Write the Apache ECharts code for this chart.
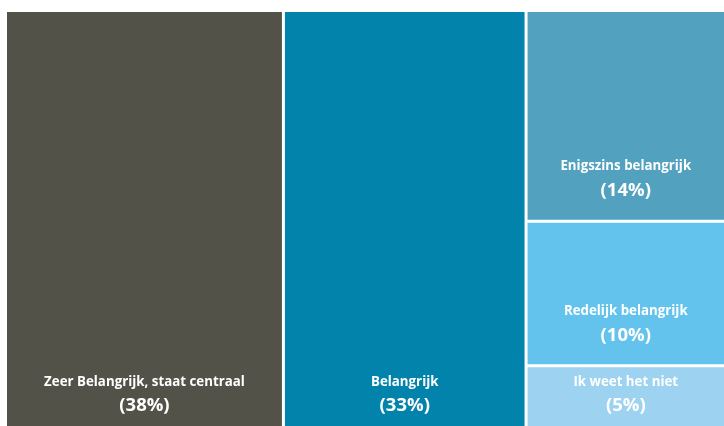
<!DOCTYPE html>
<html>
<head>
<meta charset="utf-8">
<script src="https://cdn.jsdelivr.net/npm/echarts@6/dist/echarts.min.js"></script>
<style>
  html, body { margin: 0; padding: 0; background: #ffffff; }
  #chart { width: 724px; height: 426px; }
</style>
</head>
<body>
<div id="chart"></div>
<script>
// Categories (answers)
var categories = [
  'Zeer Belangrijk, staat centraal',
  'Belangrijk',
  'Enigszins belangrijk',
  'Redelijk belangrijk',
  'Ik weet het niet'
];
// Area shares (drive the tile sizes)
var shares = [38.6, 33.7, 13.7, 9.4, 4.6];
// Percentages as printed in the labels
var percentLabels = ['38%', '33%', '14%', '10%', '5%'];
// Tile colours
var colors = ['#535249', '#0283ab', '#51a1bf', '#63c3ec', '#9dd3f0'];

var NAME_LH = 23, PCT_LH = 25, BOTTOM_GAP = 16.5;

function buildData(heights) {
  return categories.map(function (name, i) {
    var item = {
      name: name,
      value: shares[i],
      pct: percentLabels[i],
      itemStyle: { color: colors[i] }
    };
    if (heights && heights[name] != null) {
      var top = Math.max(heights[name] - NAME_LH - PCT_LH - BOTTOM_GAP, 0);
      item.label = { padding: [top, 5, 0, 5] };
    }
    return item;
  });
}

var chart = echarts.init(document.getElementById('chart'), null, { renderer: 'canvas' });
var option = {
  animation: false,
  series: [{
    type: 'treemap',
    left: 7,
    top: 12,
    width: 717,
    height: 423,
    roam: false,
    nodeClick: false,
    squareRatio: 1,
    breadcrumb: { show: false },
    levels: [
      { itemStyle: { gapWidth: 3, borderWidth: 0, borderColor: '#ffffff' } }
    ],
    itemStyle: { borderWidth: 0, gapWidth: 0 },
    label: {
      show: true,
      position: 'inside',
      align: 'center',
      formatter: function (p) {
        return '{n|' + p.name + '}\n{p|(' + p.data.pct + ')}';
      },
      rich: {
        n: {
          fontFamily: 'Open Sans',
          fontWeight: 'bold',
          fontSize: 13.3,
          lineHeight: NAME_LH,
          color: '#ffffff',
          align: 'center'
        },
        p: {
          fontFamily: 'Open Sans',
          fontWeight: 'bold',
          fontSize: 18.5,
          lineHeight: PCT_LH,
          color: '#ffffff',
          align: 'center'
        }
      }
    },
    emphasis: { disabled: true },
    data: buildData(null)
  }]
};
chart.setOption(option);

// Second pass: place the two-line label at the bottom of each tile,
// using the tile heights computed by the library's treemap layout.
try {
  var seriesData = chart.getModel().getSeriesByIndex(0).getData();
  var heights = {};
  for (var i = 0; i < seriesData.count(); i++) {
    var lay = seriesData.getItemLayout(i);
    var nm = seriesData.getName(i);
    if (lay && nm) heights[nm] = lay.height;
  }
  chart.setOption({ series: [{ data: buildData(heights) }] });
} catch (e) {
  console.error(e);
}
</script>
</body>
</html>
